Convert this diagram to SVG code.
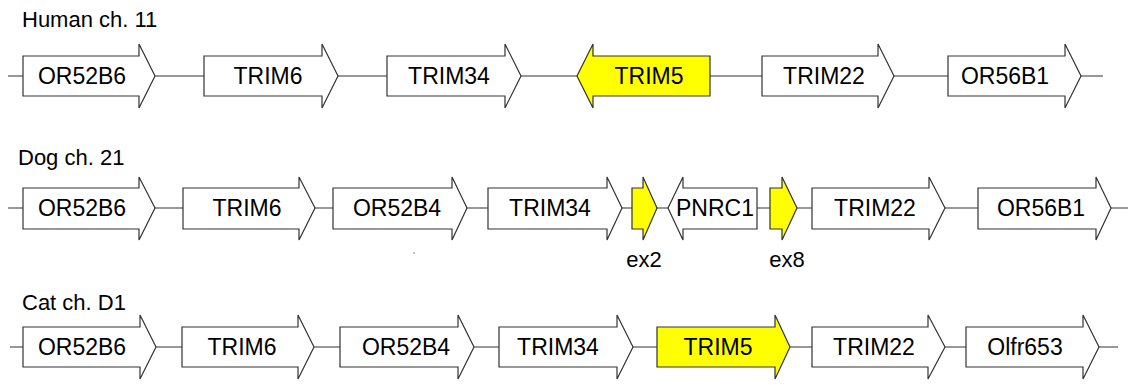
<svg xmlns="http://www.w3.org/2000/svg" width="1128" height="385" viewBox="0 0 1128 385">
<style>
.bb{stroke:#333;stroke-width:1.2;fill:none}
.g{fill:#fff;stroke:#333;stroke-width:1.2;stroke-linejoin:miter}
.y{fill:#ffff00}
.t{font-family:"Liberation Sans",Arial,sans-serif;font-size:23px;fill:#000;text-anchor:middle}
.h{font-family:"Liberation Sans",Arial,sans-serif;font-size:22px;fill:#000}
.e{font-family:"Liberation Sans",Arial,sans-serif;font-size:22px;fill:#000;text-anchor:middle}
</style>
<rect width="1128" height="385" fill="#fff"/>
<g id="titles">
<text class="h" x="22" y="27">Human ch. 11</text>
<text class="h" x="18" y="165">Dog ch. 21</text>
<text class="h" x="22" y="310">Cat ch. D1</text>
</g>
<g id="connectors">
<line class="bb" x1="8" y1="76" x2="1103" y2="76"/>
<line class="bb" x1="8" y1="208" x2="1128" y2="208"/>
<line class="bb" x1="10" y1="347" x2="1118" y2="347"/>
</g>
<!-- Human row, cy=76 -->
<g id="h-OR52B6"><polygon class="g" points="23,56 139,56 139,44 155,76 139,108 139,96 23,96"/><text class="t" x="82" y="84">OR52B6</text></g>
<g id="h-TRIM6"><polygon class="g" points="204,56 322,56 322,44 338,76 322,108 322,96 204,96"/><text class="t" x="268" y="84">TRIM6</text></g>
<g id="h-TRIM34"><polygon class="g" points="387,56 505,56 505,44 521,76 505,108 505,96 387,96"/><text class="t" x="449" y="84">TRIM34</text></g>
<g id="h-TRIM5"><polygon class="g y" points="710,56 593,56 593,44 577,76 593,108 593,96 710,96"/><text class="t" x="649" y="84">TRIM5</text></g>
<g id="h-TRIM22"><polygon class="g" points="762,56 878,56 878,44 894,76 878,108 878,96 762,96"/><text class="t" x="824" y="84">TRIM22</text></g>
<g id="h-OR56B1"><polygon class="g" points="948,56 1065,56 1065,44 1081,76 1065,108 1065,96 948,96"/><text class="t" x="1005" y="84">OR56B1</text></g>
<!-- Dog row, cy=208 -->
<g id="d-OR52B6"><polygon class="g" points="23,188 139,188 139,177 155,208 139,240 139,229 23,229"/><text class="t" x="82" y="216">OR52B6</text></g>
<g id="d-TRIM6"><polygon class="g" points="183,188 299,188 299,177 315,208 299,240 299,229 183,229"/><text class="t" x="247" y="216">TRIM6</text></g>
<g id="d-OR52B4"><polygon class="g" points="333,188 452,188 452,177 467,208 452,240 452,229 333,229"/><text class="t" x="397" y="216">OR52B4</text></g>
<g id="d-TRIM34"><polygon class="g" points="488,188 607,188 607,177 622,208 607,240 607,229 488,229"/><text class="t" x="550" y="216">TRIM34</text></g>
<g id="d-ex2"><polygon class="g y" points="632,188 643,188 643,177 657,208 643,240 643,229 632,229"/><text class="e" x="644" y="267">ex2</text></g>
<g id="d-PNRC1"><polygon class="g" points="757,188 683,188 683,177 668,208 683,240 683,229 757,229"/><text class="t" x="715" y="216">PNRC1</text></g>
<g id="d-ex8"><polygon class="g y" points="770,188 782,188 782,177 797,208 782,240 782,229 770,229"/><text class="e" x="787" y="267">ex8</text></g>
<g id="d-TRIM22"><polygon class="g" points="812,188 929,188 929,177 945,208 929,240 929,229 812,229"/><text class="t" x="875" y="216">TRIM22</text></g>
<g id="d-OR56B1"><polygon class="g" points="978,188 1096,188 1096,177 1111,208 1096,240 1096,229 978,229"/><text class="t" x="1041" y="216">OR56B1</text></g>
<circle cx="414" cy="253" r="0.8" fill="#777"/>
<!-- Cat row, cy=347 -->
<g id="c-OR52B6"><polygon class="g" points="23,327 140,327 140,315 156,347 140,379 140,367 23,367"/><text class="t" x="82" y="355">OR52B6</text></g>
<g id="c-TRIM6"><polygon class="g" points="182,327 298,327 298,315 314,347 298,379 298,367 182,367"/><text class="t" x="242" y="355">TRIM6</text></g>
<g id="c-OR52B4"><polygon class="g" points="340,327 458,327 458,315 474,347 458,379 458,367 340,367"/><text class="t" x="406" y="355">OR52B4</text></g>
<g id="c-TRIM34"><polygon class="g" points="499,327 617,327 617,315 633,347 617,379 617,367 499,367"/><text class="t" x="558" y="355">TRIM34</text></g>
<g id="c-TRIM5"><polygon class="g y" points="657,327 775,327 775,315 790,347 775,379 775,367 657,367"/><text class="t" x="718" y="355">TRIM5</text></g>
<g id="c-TRIM22"><polygon class="g" points="812,327 928,327 928,315 945,347 928,379 928,367 812,367"/><text class="t" x="874" y="355">TRIM22</text></g>
<g id="c-Olfr653"><polygon class="g" points="966,327 1083,327 1083,315 1099,347 1083,379 1083,367 966,367"/><text class="t" x="1025" y="355">Olfr653</text></g>
</svg>
